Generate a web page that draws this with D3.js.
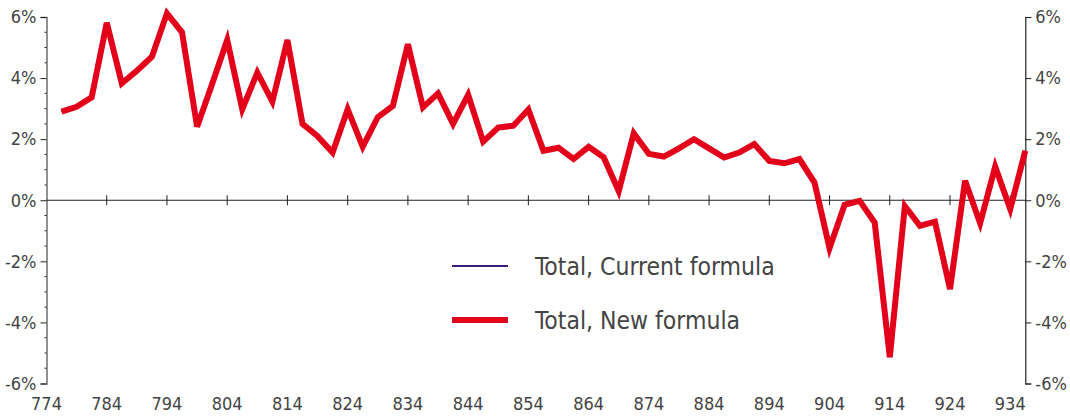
<!DOCTYPE html>
<html>
<head>
<meta charset="utf-8">
<script src="https://cdn.jsdelivr.net/npm/d3@7"></script>
<style>
  body { margin: 0; background: #fff; }
  svg text { font-family: "Liberation Sans Narrow", "DejaVu Sans Condensed", "Liberation Sans", sans-serif; fill: #444; }
</style>
</head>
<body>
<div class="js-vis"></div>
<script>
// quarterly points, 2.5 units apart
const periods = d3.range(65).map(i => 776.5 + i * 2.5)

const newFormula = [
  2.90, 3.06, 3.37, 5.81, 3.83, 4.24, 4.70, 6.12, 5.50, 2.41,
  3.81, 5.25, 2.98, 4.18, 3.23, 5.25, 2.50, 2.10, 1.56, 2.98,
  1.75, 2.72, 3.09, 5.11, 3.04, 3.50, 2.50, 3.45, 1.92, 2.38,
  2.44, 2.97, 1.62, 1.72, 1.35, 1.75, 1.41, 0.30, 2.19, 1.52,
  1.43, 1.70, 2.00, 1.70, 1.40, 1.56, 1.84, 1.29, 1.21, 1.35,
  0.58, -1.57, -0.15, -0.02, -0.73, -5.14, -0.19, -0.84, -0.70, -2.91,
  0.64, -0.75, 1.10, -0.29, 1.62
]
// hidden behind the new formula line in the picture
const currentFormula = newFormula.slice()

const xTicks = [774, 784, 794, 804, 814, 824, 834, 844, 854, 864, 874, 884, 894, 904, 914, 924, 934]
const yTicks = [-6, -4, -2, 0, 2, 4, 6]

const series = [
  { name: 'Total, Current formula', values: currentFormula, color: '#3d1a7a', width: 2 },
  { name: 'Total, New formula', values: newFormula, color: '#e2001a', width: 6 }
]

const width = 1070, height = 417

const svg = d3.select('.js-vis').append('svg')
    .attr('width', width)
    .attr('height', height)

const x = d3.scaleLinear()
  .domain([774, 936.5])
  .range([46.5, 1025.3])

const y = d3.scaleLinear()
  .domain([-6, 6])
  .range([383.5, 17])

// left axis
const left = svg.append('g')
    .attr('transform', 'translate(' + x(774) + ',0)')
    .call(d3.axisLeft(y).tickValues(yTicks).tickSize(6).tickPadding(4).tickFormat(d => d + '%'))
left.select('.domain').attr('stroke', '#777').attr('stroke-width', 1.6)
left.selectAll('.tick line').attr('stroke', '#222')
left.selectAll('text').style('font-size', '18px').attr('fill', '#444')

left.selectAll('.minor')
  .data(d3.range(-6, 6.01, 0.5).filter(d => d % 2 !== 0))
.enter().append('line')
    .attr('class', 'minor')
    .attr('x1', -2).attr('x2', 0)
    .attr('y1', d => y(d)).attr('y2', d => y(d))
    .attr('stroke', '#222')

// right axis
const right = svg.append('g')
    .attr('transform', 'translate(' + x(936.5) + ',0)')
    .call(d3.axisRight(y).tickValues(yTicks).tickSize(6).tickPadding(4).tickFormat(d => d + '%'))
right.select('.domain').attr('stroke', '#222').attr('stroke-width', 1.2)
right.selectAll('.tick line').attr('stroke', '#222')
right.selectAll('text').style('font-size', '18px').attr('fill', '#444')

// zero line with crossing ticks
const zero = svg.append('g')
    .attr('transform', 'translate(0,' + y(0) + ')')
zero.append('line')
    .attr('x1', x(774)).attr('x2', x(936.5))
    .attr('stroke', '#222').attr('stroke-width', 1.2)
zero.selectAll('.xt')
  .data(xTicks.slice(1))
.enter().append('line')
    .attr('class', 'xt')
    .attr('x1', d => x(d)).attr('x2', d => x(d))
    .attr('y1', -5).attr('y2', 5)
    .attr('stroke', '#222')

// x labels at the bottom
svg.append('g').selectAll('text')
  .data(xTicks)
.enter().append('text')
    .attr('x', d => x(d))
    .attr('y', 410)
    .attr('text-anchor', 'middle')
    .style('font-size', '18px')
    .text(String)

const line = d3.line()
  .x((d, i) => x(periods[i]))
  .y(d => y(d))

svg.selectAll('.series')
  .data(series)
.enter().append('path')
    .attr('class', 'series')
    .attr('d', d => line(d.values))
    .attr('fill', 'none')
    .attr('stroke', d => d.color)
    .attr('stroke-width', d => d.width)
    .attr('stroke-linejoin', 'miter')

// legend
const legend = svg.append('g').selectAll('g')
  .data(series)
.enter().append('g')
    .attr('transform', (d, i) => 'translate(452,' + (266 + i * 54) + ')')

legend.append('line')
    .attr('x1', 0).attr('x2', 56)
    .attr('stroke', d => d.color)
    .attr('stroke-width', d => d.width)

legend.append('text')
    .attr('x', 83)
    .attr('y', 9)
    .style('font-size', '24.5px')
    .attr('fill', '#333')
    .text(d => d.name)
</script>
</body>
</html>
